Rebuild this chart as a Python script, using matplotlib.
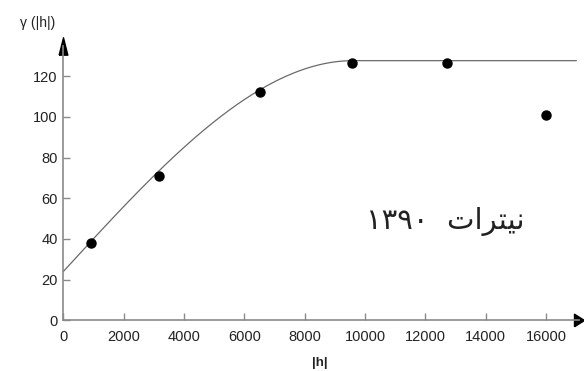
import matplotlib.pyplot as plt
import numpy as np

plt.rcParams["font.family"] = ["Liberation Sans", "DejaVu Sans"]

# experimental variogram points
lag = [918, 3160, 6520, 9580, 12710, 16000]
gamma = [38.2, 71.1, 112.2, 126.6, 126.6, 101.1]

# fitted spherical model
nugget = 24.0
sill = 127.6
model_range = 9600.0
h_max = 17000.0

xticks = [0, 2000, 4000, 6000, 8000, 10000, 12000, 14000, 16000]
yticks = [0, 20, 40, 60, 80, 100, 120]

# "nitrate 1390", written in presentation forms in visual order
label_fa = "\u06f1\u06f3\u06f9\u06f0  \ufe95\ufe8d\ufeae\ufe98\ufbff\ufee7"


def spherical(h):
    r = np.clip(h / model_range, 0, 1)
    return nugget + (sill - nugget) * (1.5 * r - 0.5 * r ** 3)


fig = plt.figure(figsize=(5.84, 3.71), dpi=100)
ax = fig.add_axes([0.1084, 0.1364, 0.883, 0.7396])

h = np.linspace(0, h_max, 400)
ax.plot(h, spherical(h), color="#6a6a6a", lw=0.9)
ax.plot(lag, gamma, "o", color="black", ms=6.5)

ax.set_xlim(0, 17093)
ax.set_ylim(0, 134.8)
ax.set_xticks(xticks)
ax.set_yticks(yticks)

for side in ["top", "right"]:
    ax.spines[side].set_visible(False)
for side in ["left", "bottom"]:
    ax.spines[side].set_color("#8a8a8a")
    ax.spines[side].set_linewidth(1.2)

ax.tick_params(direction="in", length=5, width=1, color="#8a8a8a",
               labelsize=10.5, labelcolor="#222222")
ax.tick_params(axis="x", pad=7)
ax.tick_params(axis="y", pad=4)

# arrow heads at the axis ends
right_head = [(-0.4, -0.5), (-0.4, 0.5), (0.4, 0), (-0.4, -0.5)]
up_head = [(-0.25, -0.5), (0.25, -0.5), (0, 0.5), (-0.25, -0.5)]
ax.plot(1, 0, marker=right_head, color="black", ms=9,
        transform=ax.get_yaxis_transform(), clip_on=False)
ax.plot(0, 1, marker=up_head, color="black", ms=12.5,
        transform=ax.get_xaxis_transform(), clip_on=False)

fig.text(0.064, 0.937, "\u03b3 (|h|)", fontsize=10, ha="center", va="center", color="#222222")
fig.text(0.548, 0.022, "|h|", fontsize=9.5, fontweight="bold", ha="center", va="center", color="#222222")

ax.text(12650, 48.4, label_fa, fontsize=21, ha="center", va="center",
        family=["DejaVu Sans"], color="#222222")

fig.savefig("out.png", dpi=100)
